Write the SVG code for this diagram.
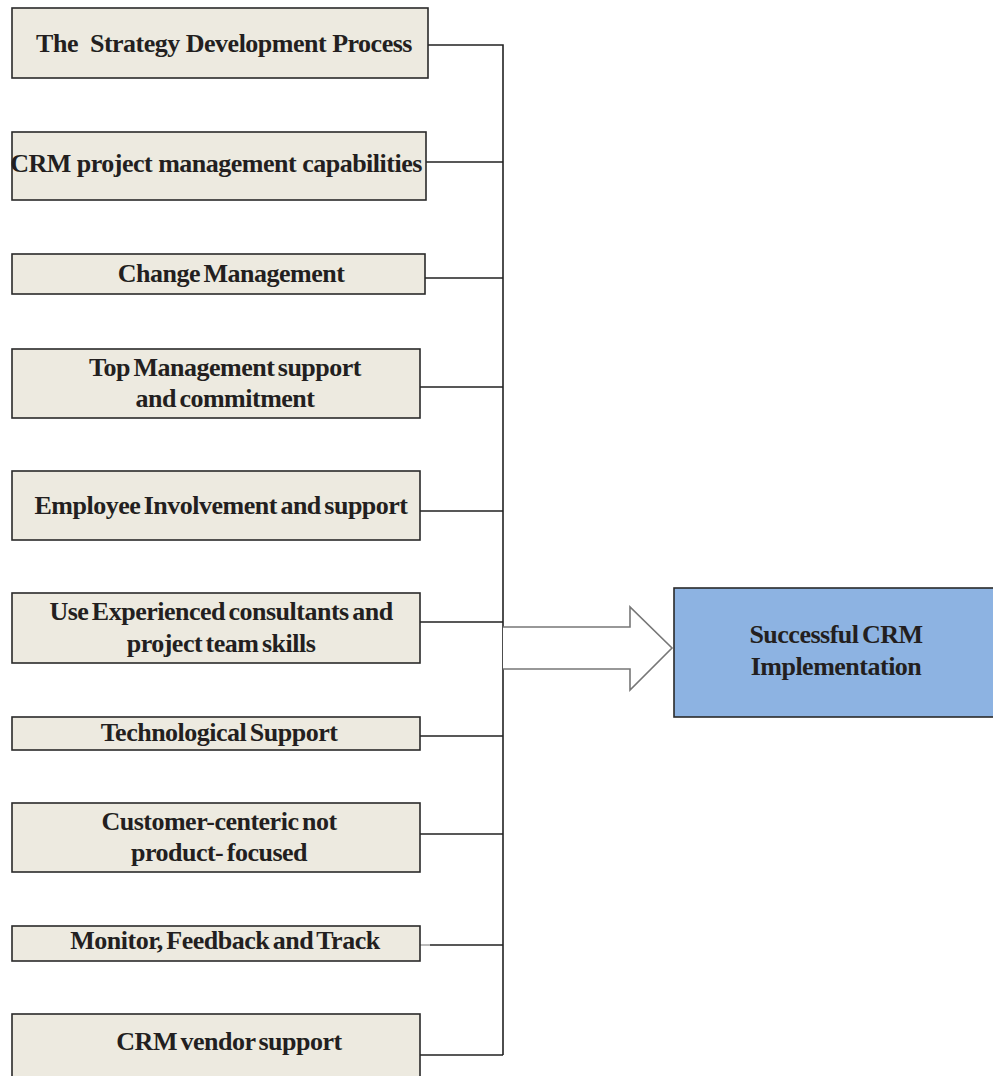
<svg xmlns="http://www.w3.org/2000/svg" width="993" height="1076" viewBox="0 0 993 1076">
<style>
.box{fill:#EDEAE0;stroke:#2a2a2a;stroke-width:1.6}
.t{font-family:"Liberation Serif","Times New Roman",serif;font-weight:bold;font-size:26px;fill:#231f20;text-anchor:middle;letter-spacing:-0.5px;word-spacing:-2.5px}
.w{word-spacing:0}
.c{fill:none;stroke:#222;stroke-width:1.6}
</style>
<rect width="993" height="1076" fill="#fff"/>
<g id="connectors">
<path class="c" d="M428 45H503V1055M426 162H503M425 278H503M420 387H503M420 511H503M420 622H503M420 736H503M420 834H503M430 945H503M420 1055H503"/>
<path d="M420 945H430" stroke="#aaa" stroke-width="1.6"/>
<path d="M503 627H630V607L672 648L630 690V669H503" fill="#fff" stroke="#777" stroke-width="1.6"/>
</g>
<g id="n1"><rect class="box" x="12" y="8" width="416" height="70"/><text class="t w" x="224" y="52" xml:space="preserve">The  Strategy Development Process</text></g>
<g id="n2"><rect class="box" x="12" y="132" width="414" height="68"/><text class="t w" x="216" y="172">CRM project management capabilities</text></g>
<g id="n3"><rect class="box" x="12" y="254" width="413" height="40"/><text class="t" x="231" y="282">Change Management</text></g>
<g id="n4"><rect class="box" x="12" y="349" width="408" height="69"/><text class="t" x="225" y="376">Top Management support</text><text class="t" x="225" y="407">and commitment</text></g>
<g id="n5"><rect class="box" x="12" y="471" width="408" height="69"/><text class="t" x="221" y="514">Employee Involvement and support</text></g>
<g id="n6"><rect class="box" x="12" y="593" width="408" height="70"/><text class="t" x="221" y="620">Use Experienced consultants and</text><text class="t" x="221" y="652">project team skills</text></g>
<g id="n7"><rect class="box" x="12" y="717" width="408" height="33"/><text class="t" x="219" y="741">Technological Support</text></g>
<g id="n8"><rect class="box" x="12" y="803" width="408" height="69"/><text class="t" x="219" y="830">Customer-centeric not</text><text class="t" x="219" y="861">product- focused</text></g>
<g id="n9"><rect class="box" x="12" y="926" width="408" height="35"/><text class="t" x="225" y="949">Monitor, Feedback and Track</text></g>
<g id="n10"><rect class="box" x="12" y="1014" width="408" height="80"/><text class="t" x="229" y="1050">CRM vendor support</text></g>
<g id="target"><rect x="674" y="588" width="330" height="129" fill="#8DB3E2" stroke="#2a2a2a" stroke-width="1.6"/><text class="t" x="836" y="643">Successful CRM</text><text class="t" x="836" y="675">Implementation</text></g>
</svg>
